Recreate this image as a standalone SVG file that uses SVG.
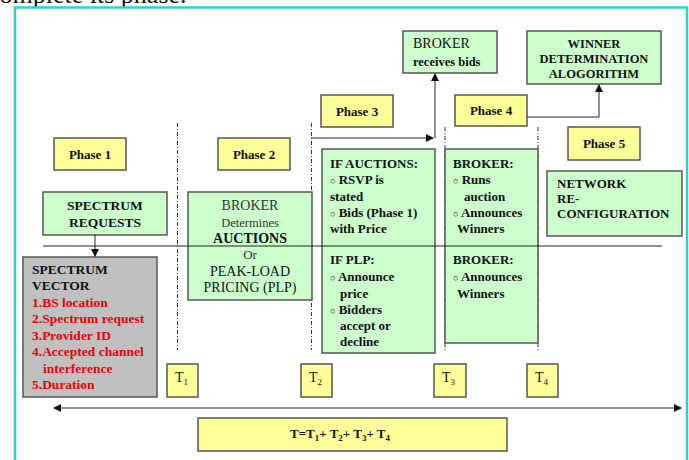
<svg xmlns="http://www.w3.org/2000/svg" width="689" height="460" viewBox="0 0 689 460">
<style>
text{font-family:"Liberation Serif","Times New Roman",serif;fill:#111}
.b{font-weight:bold;font-size:13px}
.r{font-size:13px}
.y{fill:#FFFF99;stroke:#555;stroke-width:1.5}
.g{fill:#CCFFCC;stroke:#555;stroke-width:1.5}
.gr{fill:#C0C0C0;stroke:#555;stroke-width:1.5}
.red{fill:#EE0000;font-weight:bold;font-size:13.5px}
.c{text-anchor:middle}
.dash{stroke:#333;stroke-width:1;stroke-dasharray:4,2,1,2;fill:none}
.ln{stroke:#222;stroke-width:1;fill:none}
.bl{font-size:9px}
</style>
<defs>
<marker id="ah" markerWidth="8" markerHeight="8" refX="7" refY="4" orient="auto" markerUnits="userSpaceOnUse">
<path d="M0,0 L8,4 L0,8 Z" fill="#111"/>
</marker>
<marker id="ahs" markerWidth="8" markerHeight="8" refX="1" refY="4" orient="auto" markerUnits="userSpaceOnUse">
<path d="M8,0 L0,4 L8,8 Z" fill="#111"/>
</marker>
</defs>
<rect width="689" height="460" fill="#fff"/>
<text x="-12" y="2.5" style="font-size:26px">complete its phase.</text>
<rect x="15" y="7.5" width="672" height="470" fill="none" stroke="#2ECFD0" stroke-width="2.5"/>

<g id="dashes">
<line class="dash" x1="177.5" y1="123" x2="177.5" y2="350"/>
<line class="dash" x1="311.5" y1="123" x2="311.5" y2="350"/>
<line class="dash" x1="445" y1="127" x2="445" y2="350"/>
<line class="dash" x1="538" y1="127" x2="538" y2="350"/>
</g>

<g id="phase1"><rect class="y" x="54" y="138" width="72" height="32"/><text class="b c" x="90" y="159">Phase 1</text></g>
<g id="phase2"><rect class="y" x="218" y="138" width="72" height="32"/><text class="b c" x="254" y="159">Phase 2</text></g>
<g id="phase3"><rect class="y" x="321" y="95" width="72" height="32"/><text class="b c" x="357" y="116">Phase 3</text></g>
<g id="phase4"><rect class="y" x="455" y="95" width="72" height="31"/><text class="b c" x="491" y="115">Phase 4</text></g>
<g id="phase5"><rect class="y" x="568" y="127" width="72" height="33"/><text class="b c" x="604" y="148">Phase 5</text></g>

<g id="broker-bids"><rect class="g" x="403" y="31" width="94" height="42"/>
<text x="413" y="48" style="font-size:14px">BROKER</text>
<text class="b" x="413" y="66" style="font-size:12.5px">receives bids</text></g>

<g id="winner"><rect class="g" x="527" y="31" width="134" height="53"/>
<text class="b c" x="594" y="48" style="font-size:12.5px">WINNER</text>
<text class="b c" x="594" y="63" style="font-size:12.5px">DETERMINATION</text>
<text class="b c" x="594" y="78" style="font-size:12.5px">ALOGORITHM</text></g>

<g id="spectrum-requests"><rect class="g" x="43" y="192" width="124" height="43"/>
<text class="b c" x="105" y="210" style="font-size:13.5px">SPECTRUM</text>
<text class="b c" x="105" y="227" style="font-size:13.5px">REQUESTS</text></g>

<g id="spectrum-vector"><rect class="gr" x="23" y="257" width="134" height="140"/>
<text class="b" x="32" y="274" style="font-size:13.5px">SPECTRUM</text>
<text class="b" x="32" y="290" style="font-size:13.5px">VECTOR</text>
<text class="red" x="32" y="307">1.BS location</text>
<text class="red" x="32" y="323">2.Spectrum request</text>
<text class="red" x="32" y="340">3.Provider ID</text>
<text class="red" x="32" y="356">4.Accepted channel</text>
<text class="red" x="43" y="373">interference</text>
<text class="red" x="32" y="389">5.Duration</text></g>

<g id="broker-determines"><rect class="g" x="188" y="192" width="124" height="108"/>
<text class="c" x="250" y="210" style="font-size:14px;fill:#333">BROKER</text>
<text class="c" x="250" y="227" style="font-size:12.5px;fill:#333">Determines</text>
<text class="b c" x="250" y="243" style="font-size:14px">AUCTIONS</text>
<text class="c" x="250" y="259" style="font-size:13px;fill:#333">Or</text>
<text class="c" x="250" y="276" style="font-size:14px">PEAK-LOAD</text>
<text class="c" x="250" y="292" style="font-size:14px">PRICING (PLP)</text></g>

<g id="if-auctions"><rect class="g" x="322" y="149" width="113" height="204"/>
<text class="b" x="330" y="168">IF AUCTIONS:</text>
<text class="b" x="330" y="184"><tspan class="bl" font-weight="normal">○</tspan> RSVP is</text>
<text class="b" x="330" y="201">stated</text>
<text class="b" x="330" y="217"><tspan class="bl" font-weight="normal">○</tspan> Bids (Phase 1)</text>
<text class="b" x="330" y="233">with Price</text>
<text class="b" x="330" y="264">IF PLP:</text>
<text class="b" x="330" y="281"><tspan class="bl" font-weight="normal">○</tspan> Announce</text>
<text class="b" x="340" y="298">price</text>
<text class="b" x="330" y="314"><tspan class="bl" font-weight="normal">○</tspan> Bidders</text>
<text class="b" x="340" y="330">accept or</text>
<text class="b" x="340" y="346">decline</text></g>

<g id="broker-runs"><rect class="g" x="445" y="149" width="93" height="194"/>
<text class="b" x="453" y="168">BROKER:</text>
<text class="b" x="453" y="184"><tspan class="bl" font-weight="normal">○</tspan> Runs</text>
<text class="b" x="464" y="201">auction</text>
<text class="b" x="453" y="217"><tspan class="bl" font-weight="normal">○</tspan> Announces</text>
<text class="b" x="457" y="233">Winners</text>
<text class="b" x="453" y="264">BROKER:</text>
<text class="b" x="453" y="281"><tspan class="bl" font-weight="normal">○</tspan> Announces</text>
<text class="b" x="457" y="298">Winners</text></g>

<g id="network"><rect class="g" x="547" y="171" width="135" height="65"/>
<text class="b" x="557" y="188">NETWORK</text>
<text class="b" x="557" y="203">RE-</text>
<text class="b" x="557" y="218">CONFIGURATION</text></g>

<g id="t1"><rect class="y" x="167" y="364" width="31" height="33"/><text x="175" y="382" style="font-size:14px">T<tspan font-size="9" dy="3">1</tspan></text></g>
<g id="t2"><rect class="y" x="301" y="364" width="31" height="33"/><text x="309" y="382" style="font-size:14px">T<tspan font-size="9" dy="3">2</tspan></text></g>
<g id="t3"><rect class="y" x="434" y="364" width="32" height="33"/><text x="442" y="382" style="font-size:14px">T<tspan font-size="9" dy="3">3</tspan></text></g>
<g id="t4"><rect class="y" x="527" y="364" width="31" height="33"/><text x="535" y="382" style="font-size:14px">T<tspan font-size="9" dy="3">4</tspan></text></g>

<g id="total"><rect class="y" x="198" y="418" width="309" height="33"/>
<text class="b" x="290" y="438">T=T<tspan font-size="9" dy="3">1</tspan><tspan dy="-3">+ T</tspan><tspan font-size="9" dy="3">2</tspan><tspan dy="-3">+ T</tspan><tspan font-size="9" dy="3">3</tspan><tspan dy="-3">+ T</tspan><tspan font-size="9" dy="3">4</tspan></text></g>

<g id="connectors">
<line class="ln" x1="43" y1="246" x2="662" y2="246"/>
<line class="ln" x1="95" y1="235" x2="95" y2="256" marker-end="url(#ah)"/>
<line class="ln" x1="311" y1="138" x2="433" y2="138" marker-end="url(#ah)"/>
<line class="ln" x1="435" y1="138" x2="435" y2="74" marker-end="url(#ah)"/>
<polyline class="ln" points="527,117 599,117 599,85" marker-end="url(#ah)"/>
<line class="ln" x1="54" y1="408" x2="681" y2="408" marker-start="url(#ahs)" marker-end="url(#ah)"/>
</g>
</svg>
